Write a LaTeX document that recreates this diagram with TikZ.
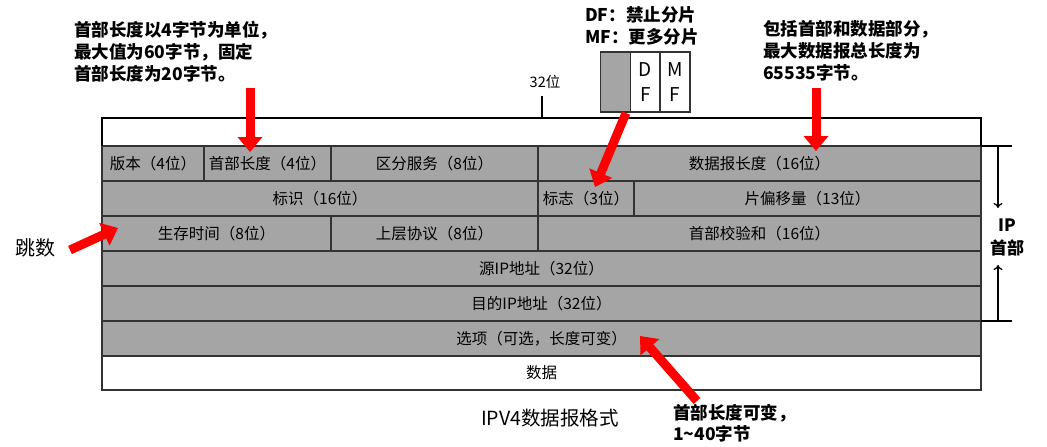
\documentclass[tikz,border=0pt]{standalone}
\usepackage{fontspec}
\setmainfont{Noto Sans CJK SC}
\usetikzlibrary{arrows.meta}
\definecolor{cellgray}{HTML}{A5A5A5}
\definecolor{edgegray}{HTML}{333333}
\begin{document}
\begin{tikzpicture}[x=1pt,y=-1pt,
  cell/.style={draw=edgegray, line width=1.3pt, fill=cellgray, minimum height=35pt, inner sep=0pt, font=\fontsize{15.5}{18}\selectfont},
  datacell/.style={cell, fill=white, minimum height=34pt},
  flagbox/.style={draw=edgegray, line width=1.3pt, minimum width=30pt, minimum height=60pt, inner sep=0pt, align=center, font=\fontsize{19}{25}\selectfont},
  note/.style={anchor=west, align=left, inner sep=0pt, font=\fontsize{17.5}{22}\selectfont\bfseries},
  redarrow/.style={draw=red, line width=9pt, -{Triangle[width=24pt,length=15pt]}},
  brace/.style={draw=black, line width=2pt},
  ipline/.style={draw=black, line width=1.3pt},
  iparrow/.style={draw=black, line width=1.3pt, -{To[length=5pt,width=9pt]}}]
\useasboundingbox (0,0) rectangle (1047,447);
% row 1
\node[cell, minimum width=102pt] (ver) at (153,163.5) {版本（4位）};
\node[cell, minimum width=127pt] (hlen) at (267.5,163.5) {首部长度（4位）};
\node[cell, minimum width=207pt] (tos) at (434.5,163.5) {区分服务（8位）};
\node[cell, minimum width=443pt] (tot) at (759.5,163.5) {数据报长度（16位）};
% row 2
\node[cell, minimum width=436pt] (ident) at (320,198.5) {标识（16位）};
\node[cell, minimum width=96pt] (flags) at (586,198.5) {标志（3位）};
\node[cell, minimum width=347pt] (frag) at (807.5,198.5) {片偏移量（13位）};
% row 3
\node[cell, minimum width=229pt] (ttl) at (216.5,233.5) {生存时间（8位）};
\node[cell, minimum width=207pt] (proto) at (434.5,233.5) {上层协议（8位）};
\node[cell, minimum width=443pt] (cksum) at (759.5,233.5) {首部校验和（16位）};
% rows 4-7
\node[cell, minimum width=879pt] (src) at (541.5,268.5) {源IP地址（32位）};
\node[cell, minimum width=879pt] (dst) at (541.5,303.5) {目的IP地址（32位）};
\node[cell, minimum width=879pt] (opt) at (541.5,338.5) {选项（可选，长度可变）};
\node[datacell, minimum width=879pt] (data) at (541.5,373) {数据};
% top bracket
\coordinate (bl) at (102,146);
\coordinate (br) at (981,146);
\coordinate (bm) at (541.5,118);
\coordinate (bt) at (541.5,96);
\draw[brace] (bl) -- (bl |- bm) -- (br |- bm) -- (br);
\draw[brace] (bm) -- (bt);
\node[font=\fontsize{14.5}{16}\selectfont] (w32) at (545,82) {32位};
% IP header bracket
\coordinate (ht0) at (981,146);
\coordinate (ht1) at (1012,146);
\coordinate (hb0) at (981,321);
\coordinate (hb1) at (1012,321);
\coordinate (ha) at (998,146);
\coordinate (hae) at (998,208);
\coordinate (hb) at (998,321);
\coordinate (hbe) at (998,265);
\draw[ipline] (ht0) -- (ht1);
\draw[ipline] (hb0) -- (hb1);
\draw[iparrow] (ha) -- (hae);
\draw[iparrow] (hb) -- (hbe);
\node[align=center, inner sep=0pt, font=\fontsize{17}{23}\selectfont\bfseries] (iph) at (1007,237) {IP\\首部};
% flag bits box
\node[flagbox, fill=cellgray] (fr) at (615.5,82) {};
\node[flagbox, fill=white] (df) at (645.5,82) {D\\F};
\node[flagbox, fill=white] (mf) at (675,82) {M\\F};
% annotations
\node[note] (n1) at (74,52) {首部长度以4字节为单位，\\最大值为60字节，固定\\首部长度为20字节。};
\node[note] (n2) at (585,26) {DF：禁止分片\\MF：更多分片};
\node[note] (n3) at (763,51) {包括首部和数据部分，\\最大数据报总长度为\\65535字节。};
\node[note, font=\fontsize{17.5}{21}\selectfont\bfseries] (n4) at (673,423) {首部长度可变，\\1\textasciitilde40字节};
\node[font=\fontsize{20}{22}\selectfont] (hop) at (36,248) {跳数};
\node[font=\fontsize{19.5}{22}\selectfont] (title) at (550,418) {IPV4数据报格式};
% red arrows
\coordinate (a1s) at (250,88);
\coordinate (a1e) at (250,152);
\coordinate (a2s) at (626,113);
\coordinate (a2e) at (595,187);
\coordinate (a3s) at (816,88);
\coordinate (a3e) at (816,151);
\coordinate (a4s) at (70,250);
\coordinate (a4e) at (118,228);
\coordinate (a5s) at (697,401);
\coordinate (a5e) at (640,336);
\draw[redarrow] (a1s) -- (a1e);
\draw[redarrow] (a2s) -- (a2e);
\draw[redarrow] (a3s) -- (a3e);
\draw[redarrow] (a4s) -- (a4e);
\draw[redarrow] (a5s) -- (a5e);
\end{tikzpicture}
\end{document}
